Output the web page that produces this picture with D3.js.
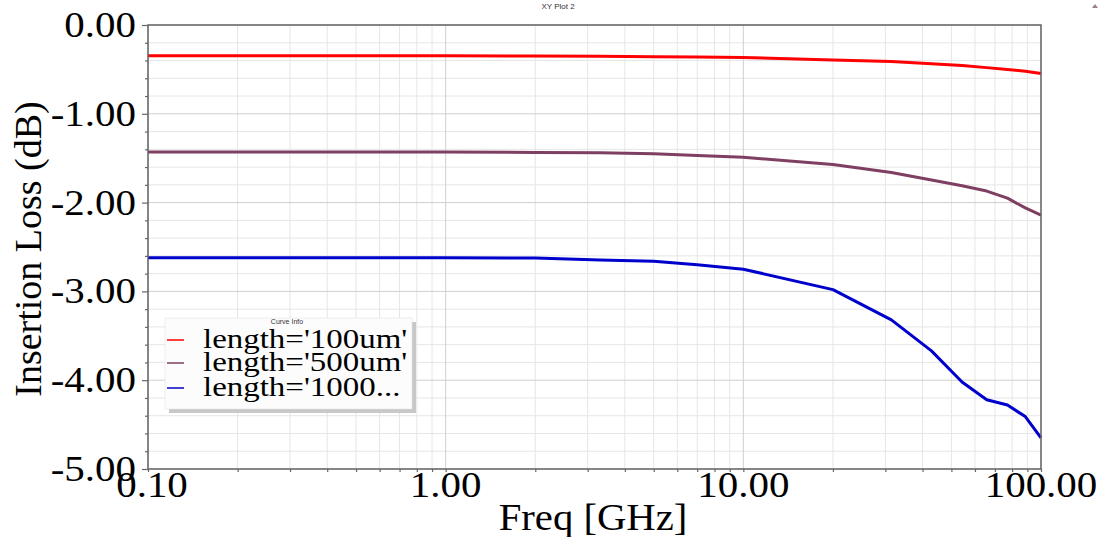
<!DOCTYPE html>
<html><head><meta charset="utf-8">
<script src="https://cdn.jsdelivr.net/npm/d3@7"></script>
<style>
html,body{margin:0;padding:0;background:#fff;}
svg{display:block;}
</style></head>
<body>
<svg id="c" width="1104" height="537"></svg>
<script>
const freqs = [0.1, 1, 2, 3.3, 5, 7, 10, 20, 31.43, 42.86, 54.29, 65.71, 77.14, 88.57, 100];
const loss100 = [-0.345,-0.345,-0.35,-0.352,-0.357,-0.36,-0.365,-0.395,-0.41,-0.435,-0.455,-0.48,-0.50,-0.52,-0.545];
const loss500 = [-1.43,-1.43,-1.435,-1.44,-1.45,-1.47,-1.49,-1.57,-1.66,-1.745,-1.81,-1.87,-1.95,-2.06,-2.14];
const loss1000 = [-2.62,-2.62,-2.625,-2.646,-2.66,-2.70,-2.75,-2.98,-3.32,-3.67,-4.02,-4.22,-4.28,-4.41,-4.65];
const seriesNames = ["length='100um'", "length='500um'", "length='1000..."];
const seriesColors = ["#ff0000", "#7f3f62", "#0000cc"];
const xTickLabels = ["0.10", "1.00", "10.00", "100.00"];
const xTickValues = [0.1, 1, 10, 100];
const yTickLabels = ["0.00", "-1.00", "-2.00", "-3.00", "-4.00", "-5.00"];
const yTickValues = [0, -1, -2, -3, -4, -5];

const svg = d3.select("#c");
const L = 148, R = 1041, T = 25, B = 469;
const x = d3.scaleLog().domain([0.1, 100]).range([L, R]);
const y = d3.scaleLinear().domain([-5, 0]).range([B, T]);
const SX = 1.17;
const serif = "'Liberation Serif','Times New Roman',serif";

const xMinor = [];
for (let d = 0.1; d < 100; d *= 10) for (let k = 2; k <= 9; k++) xMinor.push(+(d*k).toPrecision(3));
const yMinor = d3.range(0, 26).map(i => -i*0.2).filter(v => Math.abs(v - Math.round(v)) > 1e-6);

const g = svg.append("g");
g.selectAll(".gxm").data(xMinor).enter().append("line")
  .attr("x1", d => x(d)).attr("x2", d => x(d)).attr("y1", T).attr("y2", B)
  .attr("stroke", "#e6e6e6").attr("stroke-width", 1);
g.selectAll(".gym").data(yMinor).enter().append("line")
  .attr("x1", L).attr("x2", R).attr("y1", d => y(d)).attr("y2", d => y(d))
  .attr("stroke", "#e6e6e6").attr("stroke-width", 1);
g.selectAll(".gx").data(xTickValues).enter().append("line")
  .attr("x1", d => x(d)).attr("x2", d => x(d)).attr("y1", T).attr("y2", B)
  .attr("stroke", "#cfcfcf").attr("stroke-width", 1);
g.selectAll(".gy").data(yTickValues).enter().append("line")
  .attr("x1", L).attr("x2", R).attr("y1", d => y(d)).attr("y2", d => y(d))
  .attr("stroke", "#cfcfcf").attr("stroke-width", 1);

const allSeries = [loss100, loss500, loss1000];
const line = d3.line().x(d => x(d[0])).y(d => y(d[1]));
allSeries.forEach((s, i) => {
  g.append("path").attr("d", line(freqs.map((f, j) => [f, s[j]])))
    .attr("fill", "none").attr("stroke", seriesColors[i]).attr("stroke-width", 3)
    .attr("stroke-linejoin", "round");
});

g.append("rect").attr("x", L).attr("y", T).attr("width", R - L).attr("height", B - T)
  .attr("fill", "none").attr("stroke", "#666").attr("stroke-width", 1.5);

const yAxis = d3.axisLeft(y).tickValues(yTickValues).tickSize(6).tickFormat("");
const yAxisMinor = d3.axisLeft(y).tickValues(yMinor).tickSize(3).tickFormat("");
const xAxisMinor = d3.axisBottom(x).tickValues(xMinor.concat(xTickValues)).tickSize(3).tickFormat("");
[yAxis, yAxisMinor].forEach(a => {
  const ga = svg.append("g").attr("transform", `translate(${L},0)`).call(a);
  ga.select(".domain").remove();
  ga.selectAll("line").attr("stroke", "#666").attr("stroke-width", 1.2);
});
const gx = svg.append("g").attr("transform", `translate(0,${B})`).call(xAxisMinor);
gx.select(".domain").remove();
gx.selectAll("line").attr("stroke", "#666").attr("stroke-width", 1.2);

svg.selectAll(".yl").data(yTickValues).enter().append("text")
  .attr("transform", d => `translate(136,${y(d) + 12}) scale(${SX},1)`)
  .attr("text-anchor", "end").attr("font-family", serif).attr("font-size", 35)
  .attr("fill", "#000").text((d, i) => yTickLabels[i]);
svg.selectAll(".xl").data(xTickValues).enter().append("text")
  .attr("transform", d => `translate(${x(d) + (d === 0.1 ? 4 : 0)},497) scale(${SX},1)`)
  .attr("text-anchor", "middle").attr("font-family", serif).attr("font-size", 35)
  .attr("fill", "#000").text((d, i) => xTickLabels[i]);

svg.append("text").attr("transform", `translate(41,249) rotate(-90)`)
  .attr("text-anchor", "middle").attr("font-family", serif).attr("font-size", 38)
  .attr("fill", "#000").text("Insertion Loss (dB)");
svg.append("text").attr("transform", `translate(593,530) scale(1.1,1)`)
  .attr("text-anchor", "middle").attr("font-family", serif).attr("font-size", 37)
  .attr("fill", "#000").text("Freq [GHz]");

svg.append("text").attr("x", 558).attr("y", 9).attr("text-anchor", "middle")
  .attr("font-family", "'Liberation Sans',Arial,sans-serif").attr("font-size", 8)
  .attr("fill", "#333").text("XY Plot 2");
svg.append("path").attr("d", "M1092,8 L1098,8 L1095,4 Z").attr("fill", "#a08080");

const lg = svg.append("g");
lg.append("rect").attr("x", 169).attr("y", 322).attr("width", 247).attr("height", 91).attr("fill", "#c8c8c8");
lg.append("rect").attr("x", 165).attr("y", 318).attr("width", 247).attr("height", 91)
  .attr("fill", "#fcfcfc").attr("stroke", "#e0e0e0").attr("stroke-width", 0.5);
lg.append("text").attr("x", 287).attr("y", 324).attr("text-anchor", "middle")
  .attr("font-family", "'Liberation Sans',Arial,sans-serif").attr("font-size", 7)
  .attr("fill", "#333").text("Curve Info");
const rowY = [340, 363, 388];
seriesNames.forEach((n, i) => {
  lg.append("line").attr("x1", 167).attr("x2", 184).attr("y1", rowY[i]).attr("y2", rowY[i])
    .attr("stroke", seriesColors[i]).attr("stroke-width", 1.5);
  lg.append("text").attr("transform", `translate(203,${rowY[i] + 8}) scale(1.22,1)`)
    .attr("font-family", serif).attr("font-size", 27).attr("fill", "#000").text(n);
});
</script>
</body></html>
